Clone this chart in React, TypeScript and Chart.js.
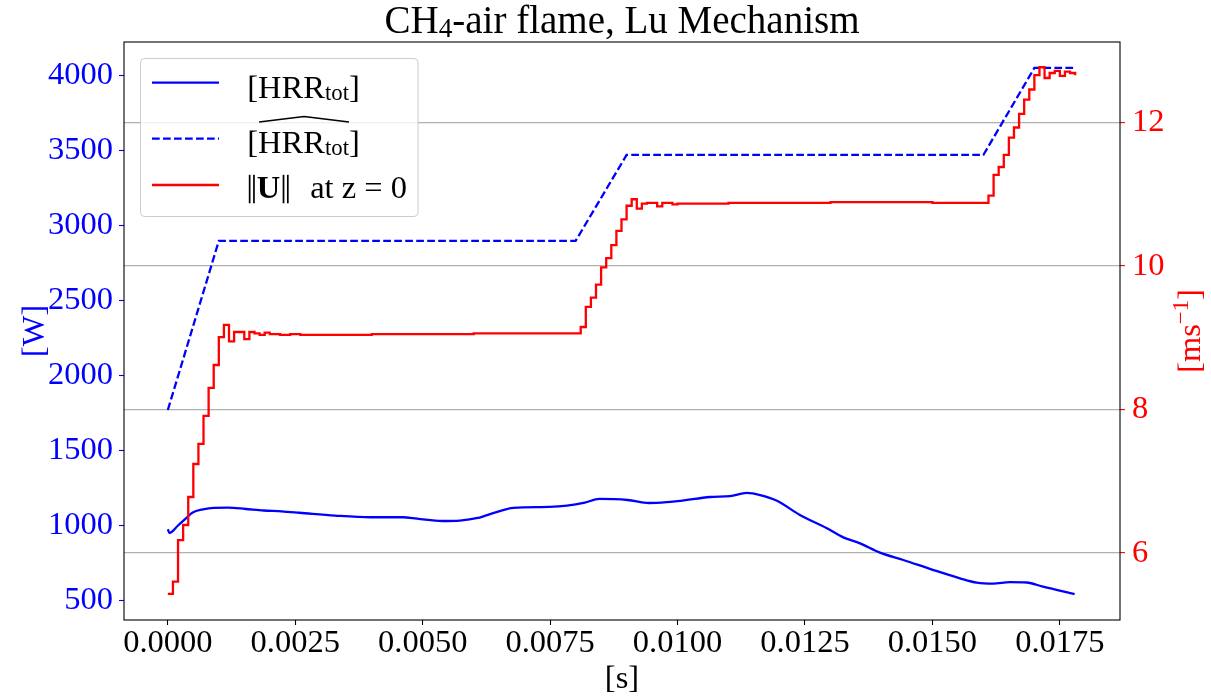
import React, { useEffect, useRef } from "react";
import { Chart, registerables } from "chart.js";

Chart.register(...registerables);

const FONT = "'Liberation Serif', 'Times New Roman', Times, serif";

// Total heat release rate [W] (solid blue)
const hrrTimes = [0, 0.00003, 0.0002, 0.00037, 0.00048, 0.00069, 0.0009, 0.00118, 0.00153, 0.00188, 0.00223, 0.00258, 0.00328, 0.00398, 0.00461, 0.00489, 0.00538, 0.00573, 0.00608, 0.00643, 0.00678, 0.00748, 0.00783, 0.00818, 0.00846, 0.00902, 0.00944, 0.00986, 0.01005, 0.01064, 0.01103, 0.01136, 0.01162, 0.01195, 0.0124, 0.01293, 0.01325, 0.01358, 0.01397, 0.01443, 0.01502, 0.01554, 0.01587, 0.01619, 0.01652, 0.01685, 0.01717, 0.01779];
const hrrValues = [975, 950, 1000, 1052, 1085, 1108, 1118, 1119, 1110, 1100, 1094, 1085, 1066, 1055, 1055, 1046, 1030, 1033, 1050, 1088, 1117, 1124, 1132, 1152, 1177, 1170, 1150, 1158, 1164, 1190, 1196, 1217, 1203, 1165, 1070, 981, 921, 881, 819, 770, 703, 648, 619, 612, 622, 620, 592, 543];

// Target heat release rate [W] (dashed blue)
const targetTimes = [0, 0.001, 0.008, 0.009, 0.016, 0.017, 0.0178];
const targetValues = [1770, 2897, 2897, 3470, 3470, 4050, 4050];

// Inlet velocity magnitude at z=0 [m/s] (red, step changes)
const velTimes = [0, 0.0001, 0.0002, 0.0003, 0.0004, 0.0005, 0.0006, 0.0007, 0.0008, 0.0009, 0.0010, 0.0011, 0.0012, 0.0013, 0.0015, 0.0016, 0.0017, 0.0018, 0.0019, 0.0020, 0.0022, 0.0024, 0.0026, 0.0040, 0.0060, 0.0081, 0.0082, 0.0083, 0.0084, 0.0085, 0.0086, 0.0087, 0.0088, 0.0089, 0.0090, 0.0091, 0.0092, 0.0093, 0.0094, 0.0096, 0.0097, 0.0099, 0.0100, 0.0110, 0.0130, 0.0150, 0.0161, 0.0162, 0.0163, 0.0164, 0.0165, 0.0166, 0.0167, 0.0168, 0.0169, 0.0170, 0.0171, 0.0172, 0.0173, 0.0174, 0.0175, 0.0176, 0.0177, 0.0178];
const velValues = [5.43, 5.60, 6.18, 6.39, 6.78, 7.24, 7.52, 7.91, 8.30, 8.62, 9.01, 9.18, 8.95, 9.08, 8.98, 9.08, 9.06, 9.04, 9.07, 9.05, 9.04, 9.05, 9.04, 9.05, 9.06, 9.15, 9.43, 9.56, 9.74, 9.98, 10.11, 10.29, 10.49, 10.65, 10.84, 10.93, 10.80, 10.87, 10.88, 10.83, 10.88, 10.86, 10.87, 10.88, 10.89, 10.88, 10.98, 11.27, 11.38, 11.55, 11.79, 11.93, 12.12, 12.32, 12.46, 12.66, 12.77, 12.62, 12.69, 12.72, 12.65, 12.71, 12.69, 12.66];

const xTicks = [0, 0.0025, 0.005, 0.0075, 0.01, 0.0125, 0.015, 0.0175];
const leftTicks = [500, 1000, 1500, 2000, 2500, 3000, 3500, 4000];
const rightTicks = [6, 8, 10, 12];

const X_MIN = -0.00086;
const X_MAX = 0.01868;
const Y_MIN = 370;
const Y_MAX = 4223;
const Y1_MIN = 5.066;
const Y1_MAX = 13.122;

const TICK_SIZE = 32.5;
const TITLE_SIZE = 39;
const LINE_W = 2.3;

type Part = { text: string; size: number; dy?: number; dx?: number; bold?: boolean };

function drawParts(ctx: CanvasRenderingContext2D, parts: Part[], x: number, y: number) {
  let cx = x;
  const pos: number[][] = [];
  for (const p of parts) {
    ctx.font = `${p.bold ? "bold " : ""}${p.size}px ${FONT}`;
    const w = ctx.measureText(p.text).width;
    const sx = cx + (p.dx || 0);
    ctx.fillText(p.text, sx, y + (p.dy || 0));
    pos.push([sx, sx + w]);
    cx = sx + w;
  }
  return pos;
}

function partsWidth(ctx: CanvasRenderingContext2D, parts: Part[]) {
  let w = 0;
  for (const p of parts) {
    ctx.font = `${p.bold ? "bold " : ""}${p.size}px ${FONT}`;
    w += ctx.measureText(p.text).width + (p.dx || 0);
  }
  return w;
}

const overlay = {
  id: "overlay",
  afterDraw(chart: any) {
    const ctx: CanvasRenderingContext2D = chart.ctx;
    const a = chart.chartArea;
    ctx.save();
    // frame (spines)
    ctx.strokeStyle = "#000";
    ctx.lineWidth = 1.1;
    ctx.strokeRect(a.left, a.top, a.right - a.left, a.bottom - a.top);

    ctx.textAlign = "left";
    ctx.textBaseline = "alphabetic";
    ctx.fillStyle = "#000";

    // title
    const titleParts: Part[] = [
      { text: "CH", size: TITLE_SIZE },
      { text: "4", size: TITLE_SIZE * 0.7, dy: 4 },
      { text: "-air flame, Lu Mechanism", size: TITLE_SIZE },
    ];
    const tw = partsWidth(ctx, titleParts);
    drawParts(ctx, titleParts, (a.left + a.right) / 2 - tw / 2, 33);

    // legend box
    const bx = 140.5, by = 58.5, bw = 277.5, bh = 158;
    ctx.beginPath();
    (ctx as any).roundRect(bx, by, bw, bh, 4);
    ctx.fillStyle = "rgba(255,255,255,0.8)";
    ctx.fill();
    ctx.strokeStyle = "#cccccc";
    ctx.lineWidth = 1;
    ctx.stroke();

    const hx0 = 152, hx1 = 219, tx = 247.3;
    // handles
    ctx.lineWidth = LINE_W;
    ctx.strokeStyle = "#0000ff";
    ctx.setLineDash([]);
    ctx.beginPath(); ctx.moveTo(hx0, 82.7); ctx.lineTo(hx1, 82.7); ctx.stroke();
    ctx.setLineDash([7.7, 3.3]);
    ctx.beginPath(); ctx.moveTo(hx0, 138.7); ctx.lineTo(hx1, 138.7); ctx.stroke();
    ctx.setLineDash([]);
    ctx.strokeStyle = "#ff0000";
    ctx.beginPath(); ctx.moveTo(hx0, 185); ctx.lineTo(hx1, 185); ctx.stroke();

    ctx.fillStyle = "#000";
    const sub = TICK_SIZE * 0.7;
    drawParts(ctx, [
      { text: "[HRR", size: TICK_SIZE },
      { text: "tot", size: sub, dy: 2 },
      { text: "]", size: TICK_SIZE },
    ], tx, 97.5);

    ctx.font = `${TICK_SIZE}px ${FONT}`;
    const bracketW = ctx.measureText("[").width;
    const p2 = drawParts(ctx, [
      { text: "[HRR", size: TICK_SIZE },
      { text: "tot", size: sub, dy: 2 },
      { text: "]", size: TICK_SIZE },
    ], tx, 153);
    // wide hat over HRR_tot
    const hs = p2[0][0] + bracketW + 1;
    const he = p2[1][1];
    ctx.strokeStyle = "#000";
    ctx.lineWidth = 1.6;
    ctx.beginPath();
    ctx.moveTo(hs, 122);
    ctx.lineTo((hs + he) / 2, 116.5);
    ctx.lineTo(he, 122);
    ctx.stroke();

    // ||U|| at z = 0
    const b3 = 198.3;
    ctx.fillStyle = "#000";
    const bar = (x: number) => ctx.fillRect(x, b3 - 23.5, 1.7, 28.5);
    bar(tx + 1.5);
    bar(tx + 5.8);
    const pU = drawParts(ctx, [{ text: "U", size: TICK_SIZE, bold: true }], tx + 9.4, b3);
    const ue = pU[0][1];
    bar(ue + 2.5);
    bar(ue + 6.8);
    drawParts(ctx, [{ text: "at z = 0", size: TICK_SIZE }], ue + 30, b3);

    // axis titles
    ctx.font = `${TICK_SIZE}px ${FONT}`;
    ctx.textAlign = "center";
    ctx.fillStyle = "#000";
    ctx.fillText("[s]", (a.left + a.right) / 2, 688);

    const cy = (a.top + a.bottom) / 2;
    ctx.save();
    ctx.translate(44, cy);
    ctx.rotate(-Math.PI / 2);
    ctx.fillStyle = "#0000ff";
    ctx.textAlign = "center";
    ctx.fillText("[W]", 0, 0);
    ctx.restore();

    ctx.save();
    ctx.translate(1200, cy);
    ctx.rotate(-Math.PI / 2);
    ctx.fillStyle = "#ff0000";
    ctx.textAlign = "left";
    const rParts: Part[] = [
      { text: "[ms", size: TICK_SIZE },
      { text: "\u22121", size: TICK_SIZE * 0.7, dy: -12 },
      { text: "]", size: TICK_SIZE },
    ];
    const rw = partsWidth(ctx, rParts);
    drawParts(ctx, rParts, -rw / 2, 0);
    ctx.restore();

    ctx.restore();
  },
};

export default function App() {
  const ref = useRef<HTMLCanvasElement | null>(null);

  useEffect(() => {
    document.body.style.margin = "0";
    const canvas = ref.current;
    if (!canvas) return;

    const hrrData = hrrTimes.map((t, i) => ({ x: t, y: hrrValues[i] }));
    const targetData = targetTimes.map((t, i) => ({ x: t, y: targetValues[i] }));
    const velData = velTimes.map((t, i) => ({ x: t, y: velValues[i] }));

    const chart = new Chart(canvas, {
      type: "line",
      data: {
        datasets: [
          {
            label: "||U|| at z = 0",
            data: velData,
            yAxisID: "y1",
            borderColor: "#ff0000",
            borderWidth: LINE_W,
            pointRadius: 0,
            stepped: "before",
            fill: false,
            order: 0,
          },
          {
            label: "[HRR_tot]",
            data: hrrData,
            yAxisID: "y",
            borderColor: "#0000ff",
            borderWidth: LINE_W,
            pointRadius: 0,
            cubicInterpolationMode: "monotone",
            tension: 0.4,
            fill: false,
            order: 1,
          },
          {
            label: "[HRR_tot] target",
            data: targetData,
            yAxisID: "y",
            borderColor: "#0000ff",
            borderWidth: LINE_W,
            borderDash: [7.7, 3.3],
            pointRadius: 0,
            fill: false,
            order: 2,
          },
        ],
      } as any,
      options: {
        responsive: false,
        animation: false,
        devicePixelRatio: 1,
        layout: { padding: { top: 42, left: 0, right: 0, bottom: 0 } },
        plugins: {
          legend: { display: false },
          title: { display: false },
          tooltip: { enabled: false },
        },
        scales: {
          x: {
            type: "linear",
            position: "bottom",
            min: X_MIN,
            max: X_MAX,
            afterBuildTicks: (s: any) => {
              s.ticks = xTicks.map((v) => ({ value: v }));
            },
            afterFit: (s: any) => {
              s.height = 80;
            },
            ticks: {
              callback: (v: any) => Number(v).toFixed(4),
              color: "#000",
              font: { family: FONT, size: TICK_SIZE, lineHeight: 1 },
              padding: 2,
              maxRotation: 0,
              autoSkip: false,
            },
            grid: {
              drawOnChartArea: false,
              drawTicks: true,
              tickLength: 5,
              tickColor: "#000",
              tickWidth: 1.1,
            },
            border: { display: false },
          },
          y: {
            type: "linear",
            position: "left",
            min: Y_MIN,
            max: Y_MAX,
            afterBuildTicks: (s: any) => {
              s.ticks = leftTicks.map((v) => ({ value: v }));
            },
            afterFit: (s: any) => {
              s.width = 124;
            },
            ticks: {
              callback: (v: any) => String(v),
              color: "#0000ff",
              font: { family: FONT, size: TICK_SIZE, lineHeight: 1 },
              padding: 6,
              autoSkip: false,
            },
            grid: {
              drawOnChartArea: false,
              drawTicks: true,
              tickLength: 5,
              tickColor: "#0000ff",
              tickWidth: 1.1,
            },
            border: { display: false },
          },
          y1: {
            type: "linear",
            position: "right",
            min: Y1_MIN,
            max: Y1_MAX,
            afterBuildTicks: (s: any) => {
              s.ticks = rightTicks.map((v) => ({ value: v }));
            },
            afterFit: (s: any) => {
              s.width = 91;
            },
            ticks: {
              callback: (v: any) => String(v),
              color: "#ff0000",
              font: { family: FONT, size: TICK_SIZE, lineHeight: 1 },
              padding: 7,
              autoSkip: false,
            },
            grid: {
              drawOnChartArea: true,
              color: "#b0b0b0",
              lineWidth: 1.2,
              drawTicks: true,
              tickLength: 5,
              tickColor: "#ff0000",
              tickWidth: 1.1,
            },
            border: { display: false },
          },
        },
      } as any,
      plugins: [overlay],
    });

    return () => chart.destroy();
  }, []);

  return (
    <div style={{ position: "absolute", left: 0, top: 0, width: 1211, height: 700, background: "#fff" }}>
      <canvas ref={ref} width={1211} height={700} style={{ display: "block", width: 1211, height: 700 }} />
    </div>
  );
}
